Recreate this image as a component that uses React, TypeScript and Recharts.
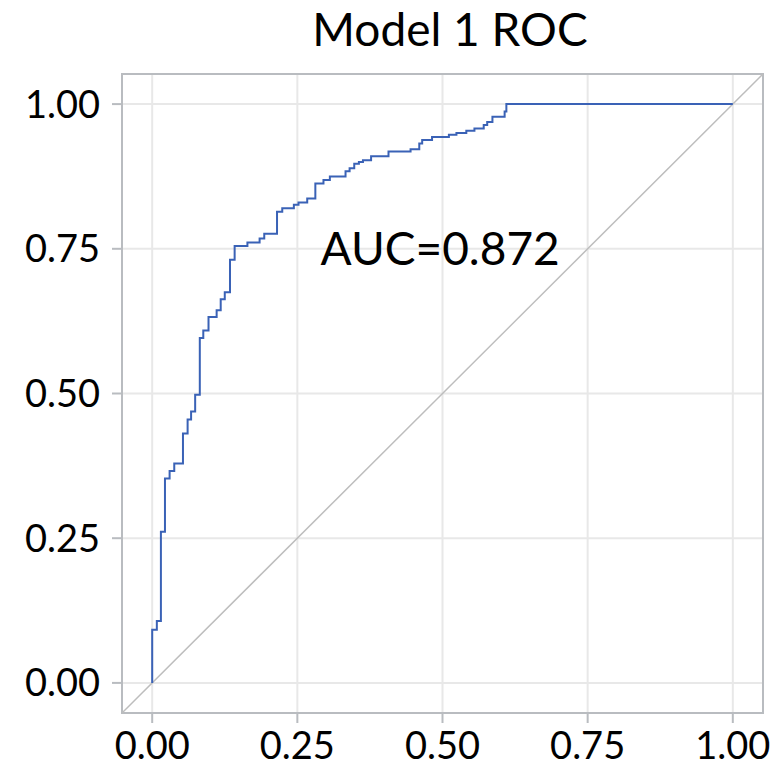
import {
  CartesianGrid,
  Line,
  LineChart,
  ReferenceArea,
  ReferenceDot,
  ReferenceLine,
  XAxis,
  YAxis,
} from "recharts";

// ROC corners: climb to tpr, then step right to fpr
const fpr = [
  0, 0.008, 0.015, 0.022, 0.03, 0.038, 0.053, 0.061, 0.067, 0.074, 0.082,
  0.088, 0.097, 0.111, 0.118, 0.125, 0.134, 0.142, 0.164, 0.185, 0.193,
  0.215, 0.224, 0.244, 0.252, 0.267, 0.281, 0.295, 0.306, 0.333, 0.34,
  0.348, 0.356, 0.363, 0.377, 0.407, 0.445, 0.46, 0.465, 0.482, 0.511,
  0.524, 0.541, 0.555, 0.571, 0.577, 0.586, 0.607, 0.61, 1.0,
];
const tpr = [
  0, 0.092, 0.107, 0.261, 0.353, 0.366, 0.379, 0.431, 0.455, 0.469, 0.498,
  0.596, 0.609, 0.632, 0.644, 0.663, 0.675, 0.731, 0.755, 0.761, 0.768,
  0.776, 0.814, 0.82, 0.826, 0.83, 0.837, 0.863, 0.869, 0.875, 0.884,
  0.889, 0.897, 0.9, 0.903, 0.91, 0.918, 0.922, 0.932, 0.938, 0.943,
  0.947, 0.95, 0.954, 0.958, 0.964, 0.969, 0.978, 0.987, 1.0,
];
const ticks = [0, 0.25, 0.5, 0.75, 1];
const domain: [number, number] = [-0.052, 1.052];
const title = "Model 1 ROC";
const aucText = "AUC=0.872";
const aucPos = { x: 0.29, y: 0.722 };

const FONT = "Lato, 'Open Sans', sans-serif";
const FRAME = "#b9bcc0";

const rocData = fpr.map((x, i) => ({ fpr: x, tpr: tpr[i] }));

function AucLabel(props: any) {
  const vb = props.viewBox || {};
  return (
    <text
      x={vb.x}
      y={vb.y}
      textAnchor="start"
      fontFamily={FONT}
      fontSize={46}
      fill="#000"
    >
      {aucText}
    </text>
  );
}

export default function App() {
  return (
    <div
      style={{
        position: "absolute",
        left: 0,
        top: 0,
        width: 775,
        height: 770,
        background: "#fff",
      }}
    >
      <div
        style={{
          position: "absolute",
          top: 6,
          left: 122,
          width: 656,
          textAlign: "center",
          fontFamily: FONT,
          fontSize: 46,
          lineHeight: "46px",
          color: "#000",
        }}
      >
        {title}
      </div>
      <LineChart
        width={775}
        height={770}
        margin={{ top: 74, right: 12, bottom: 0, left: 0 }}
      >
        <CartesianGrid stroke="#e8e8e8" strokeWidth={2} />
        <XAxis
          type="number"
          dataKey="fpr"
          domain={domain}
          ticks={ticks}
          allowDataOverflow
          tickFormatter={(v: number) => v.toFixed(2)}
          tick={{ fill: "#000", fontSize: 38, fontFamily: FONT }}
          tickSize={10}
          tickMargin={9}
          tickLine={{ stroke: FRAME, strokeWidth: 2 }}
          axisLine={false}
          height={57}
        />
        <YAxis
          type="number"
          dataKey="tpr"
          domain={domain}
          ticks={ticks}
          allowDataOverflow
          tickFormatter={(v: number) => v.toFixed(2)}
          tick={{ fill: "#000", fontSize: 38, fontFamily: FONT }}
          tickSize={10}
          tickMargin={12}
          tickLine={{ stroke: FRAME, strokeWidth: 2 }}
          axisLine={false}
          width={122}
        />
        <ReferenceArea
          x1={domain[0]}
          x2={domain[1]}
          y1={domain[0]}
          y2={domain[1]}
          fill="none"
          stroke={FRAME}
          strokeWidth={2}
          ifOverflow="visible"
        />
        <ReferenceLine
          segment={[
            { x: domain[0], y: domain[0] },
            { x: domain[1], y: domain[1] },
          ]}
          stroke="#bdbdbd"
          strokeWidth={1.5}
          ifOverflow="visible"
        />
        <Line
          data={rocData}
          dataKey="tpr"
          type="stepBefore"
          stroke="#3a62b6"
          strokeWidth={2}
          dot={false}
          activeDot={false}
          isAnimationActive={false}
        />
        <ReferenceDot
          x={aucPos.x}
          y={aucPos.y}
          r={0}
          fill="none"
          stroke="none"
          label={<AucLabel />}
        />
      </LineChart>
    </div>
  );
}
